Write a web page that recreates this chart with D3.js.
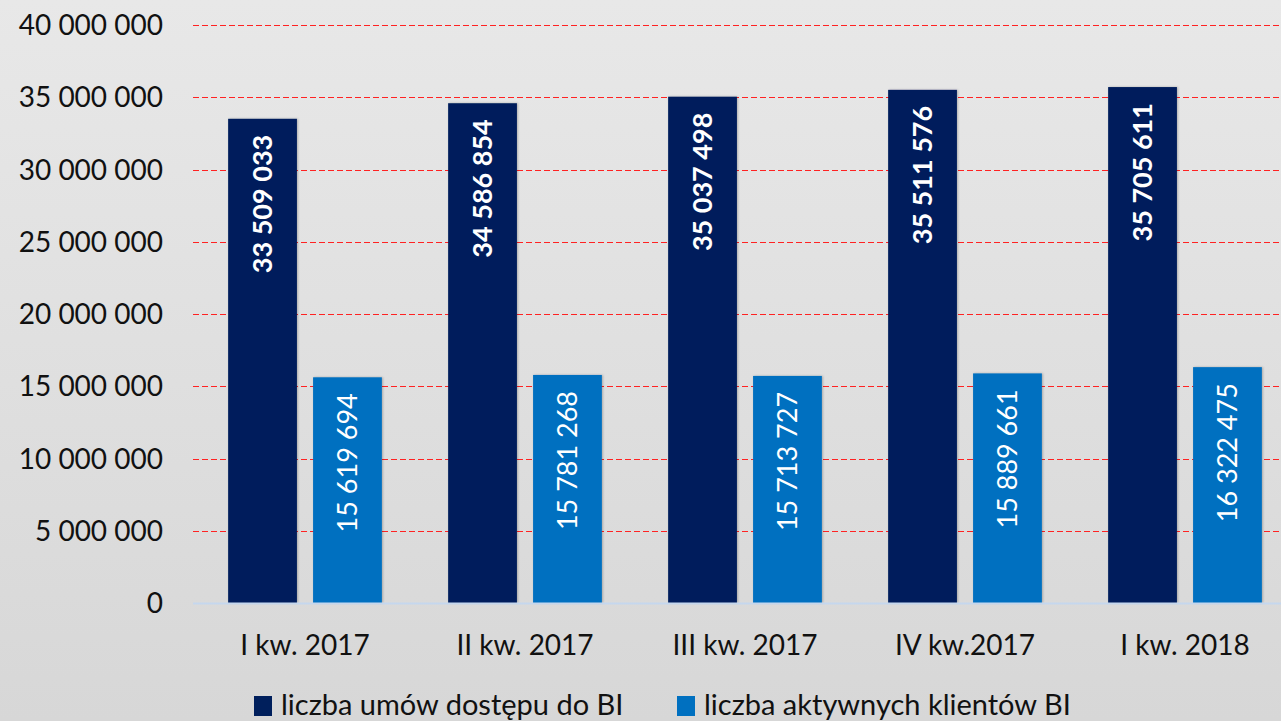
<!DOCTYPE html>
<meta charset=utf-8>
<style>
html, body { margin: 0; padding: 0 }
body { width: 1281px; height: 721px; overflow: hidden; background: linear-gradient(#e8e8e8, #d7d7d7) }
</style>
<script src="https://cdn.jsdelivr.net/npm/d3@7/dist/d3.min.js"></script>
<body>
<svg id=chart width=1281 height=721></svg>
<script>
const categories = ["I kw. 2017", "II kw. 2017", "III kw. 2017", "IV kw.2017", "I kw. 2018"];
const umowy = [33509033, 34586854, 35037498, 35511576, 35705611];
const aktywni = [15619694, 15781268, 15713727, 15889661, 16322475];
const seriesNames = ["liczba umów dostępu do BI", "liczba aktywnych klientów BI"];
const yTicks = [0, 5e6, 10e6, 15e6, 20e6, 25e6, 30e6, 35e6, 40e6];

const colors = ["#001f5c", "#0070c0"];
const font = "Lato, 'Open Sans', sans-serif";
const fmt = v => d3.format(",")(v).replace(/,/g, " ");

const svg = d3.select("#chart");
const margin = {top: 25, left: 195, bottom: 603};

const x = d3.scaleBand()
	.domain(categories)
	.range([margin.left, margin.left + 1100]);
const x1 = d3.scaleBand()
	.domain([0, 1])
	.range([0, x.bandwidth()])
	.paddingInner(0.19)
	.paddingOuter(0.39);
const y = d3.scaleLinear()
	.domain([0, 40e6])
	.range([margin.bottom, margin.top]);

const defs = svg.append("defs");
defs.append("filter").attr("id", "sh")
	.attr("x", "-10%").attr("y", "-10%").attr("width", "130%").attr("height", "120%")
	.append("feDropShadow").attr("dx", 1).attr("dy", 0).attr("stdDeviation", 1.2)
	.attr("flood-color", "#000").attr("flood-opacity", 0.25);

// grid
svg.append("g")
	.selectAll("line")
	.data(yTicks.slice(1))
	.join("line")
		.attr("x1", 193).attr("x2", 1281)
		.attr("y1", d => Math.round(y(d)) + 0.5).attr("y2", d => Math.round(y(d)) + 0.5)
		.attr("stroke", "#f22")
		.attr("stroke-width", 1.2)
		.attr("stroke-dasharray", "6 3");

// y axis labels
svg.append("g")
	.attr("font-family", font)
	.attr("font-size", 28)
	.attr("fill", "#111")
	.attr("text-anchor", "end")
	.selectAll("text")
	.data(yTicks)
	.join("text")
		.attr("x", 163)
		.attr("y", d => y(d))
		.attr("dy", "0.36em")
		.text(fmt);

// bars
const data = categories.map((c, i) => ({c, vals: [umowy[i], aktywni[i]]}));
const groups = svg.append("g")
	.selectAll("g")
	.data(data)
	.join("g")
		.attr("transform", d => `translate(${x(d.c)},0)`);

groups.selectAll("rect")
	.data(d => d.vals.map((v, k) => ({v, k})))
	.join("rect")
		.attr("x", d => x1(d.k))
		.attr("width", x1.bandwidth())
		.attr("y", d => y(d.v))
		.attr("height", d => y(0) - y(d.v))
		.attr("fill", d => colors[d.k])
		.attr("filter", "url(#sh)");

groups.selectAll("text")
	.data(d => d.vals.map((v, k) => ({v, k})))
	.join("text")
		.attr("transform", d => `translate(${x1(d.k) + x1.bandwidth() / 2},${y(d.v) + 16}) rotate(-90)`)
		.attr("text-anchor", "end")
		.attr("dy", "0.35em")
		.attr("font-family", font)
		.attr("font-size", 27)
		.attr("font-weight", d => d.k === 0 ? "bold" : "normal")
		.attr("fill", "#fff")
		.text(d => fmt(d.v));

// baseline
svg.append("line")
	.attr("x1", 193).attr("x2", 1281)
	.attr("y1", y(0) + 0.5).attr("y2", y(0) + 0.5)
	.attr("stroke", "#c5d7ee")
	.attr("stroke-width", 2);

// x labels
svg.append("g")
	.attr("font-family", font)
	.attr("font-size", 28)
	.attr("fill", "#111")
	.attr("text-anchor", "middle")
	.selectAll("text")
	.data(categories)
	.join("text")
		.attr("x", d => x(d) + x.bandwidth() / 2)
		.attr("y", 655)
		.text(d => d);

// legend
const legendX = [254, 677];
const leg = svg.append("g")
	.selectAll("g")
	.data(seriesNames)
	.join("g")
		.attr("transform", (d, i) => `translate(${legendX[i]},696)`);
leg.append("rect")
	.attr("width", 18).attr("height", 20)
	.attr("fill", (d, i) => colors[i]);
leg.append("text")
	.attr("x", 27)
	.attr("y", 19)
	.attr("font-family", font)
	.attr("font-size", 29)
	.attr("fill", "#111")
	.text(d => d);
</script>
</body>
